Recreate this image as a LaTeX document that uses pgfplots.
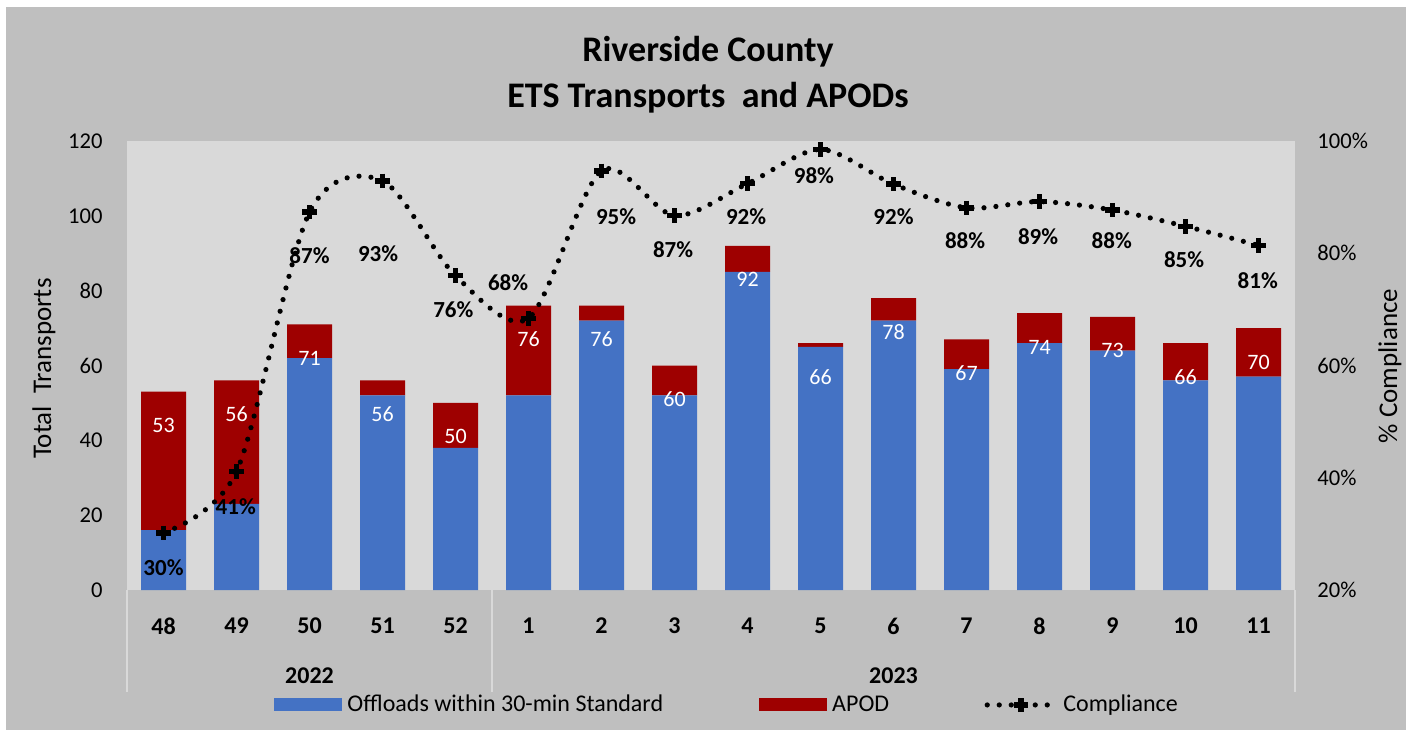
\documentclass[border=0pt]{standalone}
\usepackage{fontspec}
\setmainfont{Carlito}
\usepackage{pgfplots}
\pgfplotsset{compat=1.18}
\usepackage{pgfplotstable}

\definecolor{outergray}{HTML}{BFBFBF}
\definecolor{plotgray}{HTML}{D9D9D9}
\definecolor{offblue}{HTML}{4472C4}
\definecolor{apodred}{HTML}{9E0000}

% x index: 0..4 = weeks 48..52 (2022), 5..15 = weeks 1..11 (2023)
\pgfplotstableread{
x blue
0 16
1 23
2 62
3 52
4 38
5 52
6 72
7 52
8 85
9 65
10 72
11 59
12 66
13 64
14 56
15 57
}\bluedata

\pgfplotstableread{
x apod total
0 37 53
1 33 56
2 9 71
3 4 56
4 12 50
5 24 76
6 4 76
7 8 60
8 7 92
9 1 66
10 6 78
11 8 67
12 8 74
13 9 73
14 10 66
15 13 70
}\apoddata

\pgfplotstableread{
x comp
0 30.2
1 41.1
2 87.3
3 92.9
4 76.0
5 68.4
6 94.7
7 86.7
8 92.4
9 98.5
10 92.3
11 88.1
12 89.2
13 87.7
14 84.8
15 81.4
}\compdata

\pgfplotstableread{
x y label
0 23.9 30\%
0.99 34.8 41\%
2.0 79.5 87\%
2.94 79.9 93\%
3.97 69.9 76\%
4.72 74.7 68\%
6.2 86.6 95\%
6.98 80.6 87\%
7.98 86.5 92\%
8.91 93.8 98\%
10.0 86.5 92\%
10.98 82.2 88\%
11.98 82.9 89\%
12.99 82.2 88\%
13.98 78.8 85\%
14.99 75.2 81\%
}\complabels

\pgfplotsset{
  base/.style={
    scale only axis, width=584bp, height=224.5bp,
    at={(0,0)}, anchor=south west,
    xmin=-0.5, xmax=15.5, clip=false,
    axis line style={draw=none},
    major tick length=0pt, tick style={draw=none},
    /pgf/number format/assume math mode=true,
    ticklabel style={font=\fontsize{11.3bp}{13bp}\selectfont},
  },
  compstyle/.style={black, line width=2.6bp, line cap=round,
    dash pattern=on 0bp off 6bp,
    mark=+, mark size=3.6bp,
    mark options={solid, line width=2.8bp, line cap=butt}},
  complegend/.style={legend image code/.code={%
    \draw[black, line width=2.6bp, line cap=round, dash pattern=on 0bp off 6bp]
      (0bp,0bp) -- (34bp,0bp);
    \draw[black, solid, line width=2.8bp]
      (13.4bp,0bp) -- (20.6bp,0bp) (17bp,-3.6bp) -- (17bp,3.6bp);}},
  barlegend/.style={legend image code/.code={%
    \fill[##1] (0bp,-3.25bp) rectangle (34bp,3.25bp);}},
}

\begin{document}
\begin{tikzpicture}
\fill[white] (-63.5bp,-71bp) rectangle (642bp,295bp);
\fill[outergray] (-60.5bp,-70bp) rectangle (639.5bp,291.5bp);

\node[font=\bfseries\fontsize{18bp}{23bp}\selectfont, align=center]
  at (290.5bp,257.5bp) {Riverside County\\ETS Transports\ \ and APODs};

\begin{axis}[base,
  axis background/.style={fill=plotgray},
  ymin=0, ymax=120, ytick={0,20,...,120},
  yticklabel style={inner sep=0pt, anchor=east, xshift=-12bp},
  xtick={0,...,15},
  xticklabels={48,49,50,51,52,1,2,3,4,5,6,7,8,9,10,11},
  xticklabel style={font=\bfseries\fontsize{12bp}{14bp}\selectfont,
    inner sep=0pt, anchor=center, yshift=-18bp},
  ylabel={Total\ \ Transports},
  ylabel style={font=\fontsize{13.5bp}{16bp}\selectfont,
    at={(axis description cs:-0.0711,0.493)}, anchor=center},
  ybar stacked, bar width=22.5bp,
  legend columns=3,
  legend cell align=left,
  legend style={at={(axis description cs:0.1255,-0.256)}, anchor=west,
    draw=none, fill=none, inner sep=0pt,
    font=\fontsize{12bp}{14bp}\selectfont,
    nodes={inner xsep=2.75bp, inner ysep=0pt},
    /tikz/every even column/.append style={column sep=45bp}},
]
\addplot[fill=offblue, draw=none, barlegend] table[x=x,y=blue] {\bluedata};
\addlegendentry{Offloads within 30-min Standard}
\addplot[fill=apodred, draw=none, barlegend] table[x=x,y=apod] {\apoddata};
\addlegendentry{APOD}
\addlegendimage{complegend}
\addlegendentry{Compliance}
\end{axis}

% total labels inside the bars (same scale as the bar axis, nothing drawn but the labels)
\begin{axis}[base, ymin=0, ymax=120,
  xtick=\empty, ytick=\empty, axis line style={draw=none}]
\addplot[draw=none, mark=none, nodes near coords, point meta=explicit,
  nodes near coords style={text=white, font=\fontsize{11bp}{13bp}\selectfont,
    anchor=center, yshift=-17bp}]
  table[x=x,y=total,meta=total] {\apoddata};
\end{axis}

\begin{axis}[base,
  axis y line*=right, axis x line=none, xtick=\empty,
  ymin=20, ymax=100, ytick={20,40,...,100},
  yticklabel={\pgfmathprintnumber{\tick}\%},
  yticklabel style={inner sep=0pt, anchor=west, xshift=11bp},
  ylabel={\% Compliance},
  ylabel style={font=\fontsize{13.5bp}{16bp}\selectfont,
    at={(axis description cs:1.0813,0.499)}, anchor=center},
]
\addplot[compstyle, smooth] table[x=x,y=comp] {\compdata};
\addplot[draw=none, mark=none, nodes near coords, point meta=explicit symbolic,
  nodes near coords style={font=\bfseries\fontsize{11.5bp}{13bp}\selectfont,
    anchor=center, inner sep=0pt, text=black}]
  table[x=x,y=y,meta=label] {\complabels};
\end{axis}

% clean band under the category area, then the category separators and year labels
\fill[outergray] (0.6bp,-47.5bp) rectangle (181.9bp,-51.3bp);
\fill[outergray] (183.1bp,-47.5bp) rectangle (583.4bp,-51.3bp);
\fill[plotgray] (-0.5bp,0bp) rectangle (0.5bp,-51bp);
\fill[plotgray] (182bp,0bp) rectangle (183bp,-51bp);
\fill[plotgray] (583.5bp,0bp) rectangle (584.5bp,-51bp);
\node[font=\bfseries\fontsize{12bp}{14bp}\selectfont] at (91.25bp,-43bp) {2022};
\node[font=\bfseries\fontsize{12bp}{14bp}\selectfont] at (383.25bp,-43bp) {2023};

\pgfresetboundingbox
\useasboundingbox (-63.5bp,-71bp) rectangle (642bp,295bp);
\end{tikzpicture}
\end{document}
